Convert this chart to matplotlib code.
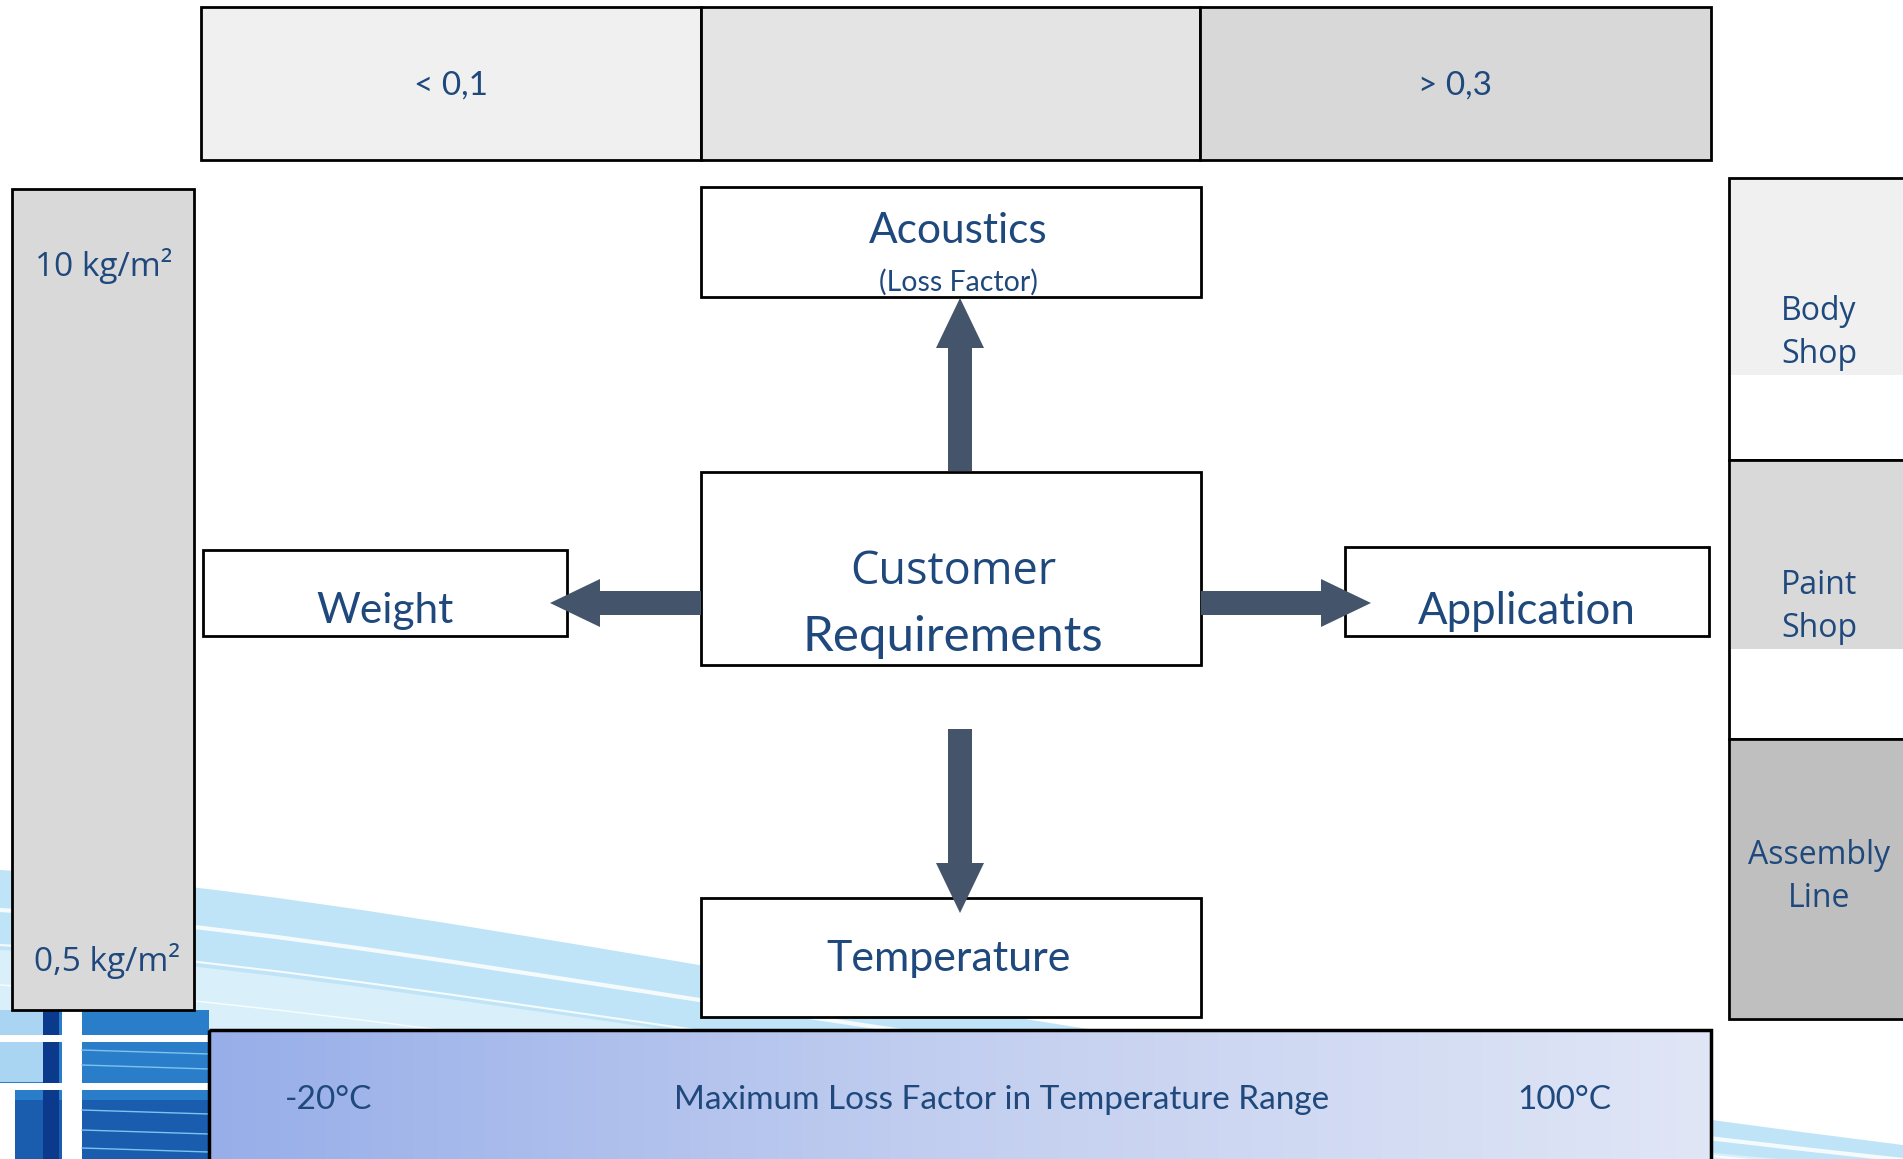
import matplotlib.pyplot as plt
import matplotlib.patches as mpatches
from matplotlib.path import Path
import numpy as np
from matplotlib.colors import LinearSegmentedColormap

# labels in the diagram
top_labels = ["< 0,1", "", "> 0,3"]
top_colors = ["#f0f0f0", "#e4e4e4", "#d8d8d8"]
weight_labels = ["10 kg/m²", "0,5 kg/m²"]
shop_labels = ["Body\nShop", "Paint\nShop", "Assembly\nLine"]
shop_colors = ["#f0f0f0", "#d9d9d9", "#bfbfbf"]
temp_labels = ["-20°C", "Maximum Loss Factor in Temperature Range", "100°C"]
center_title = ["Customer", "Requirements"]
node_labels = ["Acoustics", "Weight", "Application", "Temperature"]

W, H = 1903, 1159
TXT = "#1f497d"
ARR = "#44546a"

fig = plt.figure(figsize=(W / 100, H / 100), dpi=100)
ax = fig.add_axes([0, 0, 1, 1])
ax.set_xlim(0, W)
ax.set_ylim(H, 0)
ax.axis("off")


def box(x0, y0, x1, y1, fc="white", lw=2.0, z=3):
    ax.add_patch(mpatches.Rectangle((x0, y0), x1 - x0, y1 - y0, facecolor=fc,
                                    edgecolor="black", linewidth=lw, zorder=z))


def label(x, y, s, size, family="Lato", **kw):
    ax.text(x, y + 3, s, ha="center", va="center", color=TXT, fontsize=size,
            family=family, zorder=10, **kw)


def swoosh(y_left, y_mid, y_right, color, z, fill=True, lw=0):
    # smooth curve across the bottom of the slide
    verts = [(0, y_left), (420, y_left + 25), (800, y_mid), (1903, y_right)]
    codes = [Path.MOVETO, Path.CURVE4, Path.CURVE4, Path.CURVE4]
    if fill:
        verts += [(1903, H + 5), (0, H + 5), (0, y_left)]
        codes += [Path.LINETO, Path.LINETO, Path.CLOSEPOLY]
        ax.add_patch(mpatches.PathPatch(Path(verts, codes), facecolor=color,
                                        lw=0, zorder=z))
    else:
        ax.add_patch(mpatches.PathPatch(Path(verts, codes), facecolor="none",
                                        edgecolor=color, lw=lw, zorder=z, alpha=0.85))


# ---- background swoosh (bottom left)
swoosh(870, 1005, 1145, "#bfe4f7", 0)
swoosh(950, 1075, 1170, "#d9f0fb", 0.1)
swoosh(910, 1040, 1160, "white", 0.2, fill=False, lw=3)
swoosh(945, 1070, 1175, "white", 0.2, fill=False, lw=1.5)
swoosh(985, 1100, 1190, "white", 0.2, fill=False, lw=1)

# dark blue corner block
ax.add_patch(mpatches.Rectangle((0, 1010), 209, 149, color="#2a7dc8", zorder=0.5, lw=0))
ax.add_patch(mpatches.Rectangle((0, 1100), 209, 59, color="#1a5cae", zorder=0.6, lw=0))
ax.add_patch(mpatches.Rectangle((0, 1010), 43, 72, color="#a9d5f2", zorder=0.7, lw=0))
ax.add_patch(mpatches.Rectangle((43, 1010), 16, 149, color="#0b3a8c", zorder=0.8, lw=0))
ax.add_patch(mpatches.Rectangle((62, 1010), 20, 149, color="white", zorder=0.9, lw=0))
for yy in (1035, 1083):
    ax.add_patch(mpatches.Rectangle((0, yy), 209, 7, color="white", zorder=0.9, lw=0))
ax.add_patch(mpatches.Rectangle((0, 1083), 15, 76, color="white", zorder=0.9, lw=0))
for yy in (1050, 1065, 1110, 1130, 1148):
    ax.plot([82, 209], [yy, yy + 4], color="#7cc3f0", lw=1, zorder=0.95)

# ---- top scale bar
top_x = [201, 701, 1200, 1711]
for i, s in enumerate(top_labels):
    box(top_x[i], 7, top_x[i + 1], 160, fc=top_colors[i])
    if s:
        label((top_x[i] + top_x[i + 1]) / 2, 83, s, 24, family="Lato")

# ---- left weight bar
box(12, 189, 194, 1010, fc="#d9d9d9")
label(104, 263, weight_labels[0], 24, family="Open Sans")
label(107, 958, weight_labels[1], 24, family="Open Sans")

# ---- right column (shops)
shop_y = [178, 460, 739, 1019]
fill_end = [376, 650, 1019]
text_y = [330, 604, 874]
for i, s in enumerate(shop_labels):
    y0, y1 = shop_y[i], shop_y[i + 1]
    box(1729, y0, 1930, y1, fc="white")
    ax.add_patch(mpatches.Rectangle((1731, y0 + 2), 200, fill_end[i] - y0 - 3,
                                    color=shop_colors[i], zorder=3.5, lw=0))
    label(1819, text_y[i], s, 23, family="Open Sans", linespacing=1.4)

# ---- bottom temperature bar with gradient
cmap = LinearSegmentedColormap.from_list("tb", ["#97aee9", "#c3cff0", "#e0e6f6"])
ax.imshow(np.linspace(0, 1, 256).reshape(1, -1), cmap=cmap, aspect="auto",
          extent=(209, 1711, 1170, 1030), zorder=2)
ax.add_patch(mpatches.Rectangle((209, 1030), 1502, 140, facecolor="none",
                                edgecolor="black", linewidth=2.5, zorder=3))
label(329, 1097, temp_labels[0], 24)
label(1002, 1097, temp_labels[1], 24)
label(1564, 1097, temp_labels[2], 24)

# ---- central boxes
box(701, 187, 1201, 297)
label(958, 228, node_labels[0], 30.5)
label(958, 279, "(Loss Factor)", 20.5)

box(701, 472, 1201, 665)
label(953, 569, center_title[0], 32.5, family="Open Sans")
label(953, 634, center_title[1], 35.5)

box(203, 550, 567, 636)
label(385, 608, node_labels[1], 30.5)

box(1345, 547, 1709, 636)
label(1527, 608, node_labels[2], 31.5)

box(701, 898, 1201, 1017)
label(949, 956, node_labels[3], 31)

# ---- arrows
arrows = [((960, 471), (960, 298)), ((960, 729), (960, 913)),
          ((701, 603), (550, 603)), ((1201, 603), (1371, 603))]
for (x0, y0), (x1, y1) in arrows:
    ax.add_patch(mpatches.FancyArrow(x0, y0, x1 - x0, y1 - y0, width=24,
                                     head_width=48, head_length=50,
                                     length_includes_head=True, color=ARR,
                                     lw=0, zorder=6))

fig.savefig("out.png", dpi=100)
